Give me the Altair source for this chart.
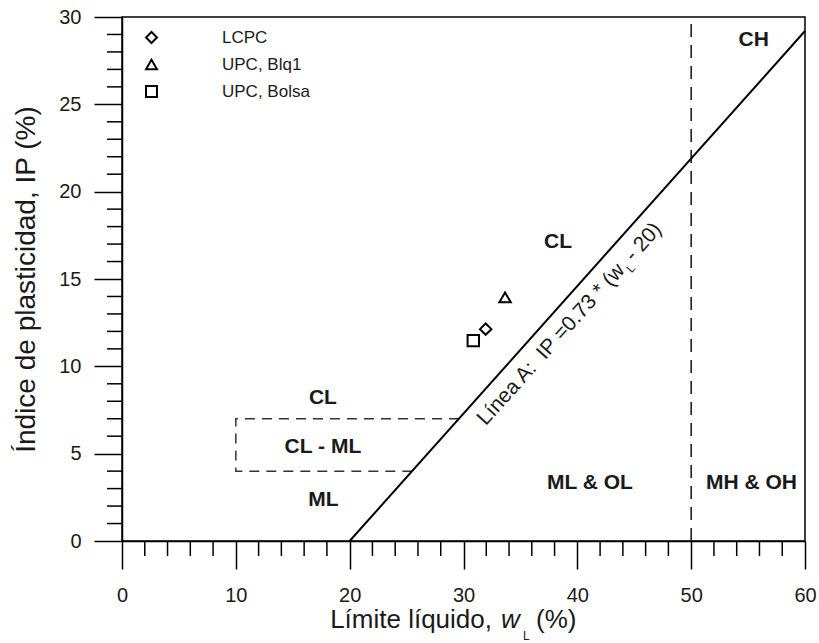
import altair as alt
import pandas as pd

# ---- data ----
series = ["LCPC", "UPC, Blq1", "UPC, Bolsa"]
pt_wl = [31.95, 33.65, 30.86]
pt_ip = [12.13, 13.95, 11.47]
shapes = ["diamond", "triangle-up", "square"]

lineA_wl = [20, 60]
lineA_ip = [0, 29.2]

box_wl = [29.6, 10, 10, 25.5]
box_ip = [7, 7, 4, 4]

vline_wl = [50, 50]
vline_ip = [0, 30]

zone_labels = ["CL", "CL - ML", "ML", "CL", "ML & OL", "MH & OH", "CH"]
zone_wl = [17.65, 17.65, 17.7, 38.3, 41.1, 55.3, 55.5]
zone_ip = [8.2, 5.4, 2.35, 17.1, 3.3, 3.3, 28.7]

lineA_label_wl = [39.72]
lineA_label_ip = [12.18]

x_major = [0, 10, 20, 30, 40, 50, 60]
x_minor = [v for v in range(0, 61, 2) if v % 10 != 0]
y_major = [0, 5, 10, 15, 20, 25, 30]
y_minor = [v for v in range(0, 31) if v % 5 != 0]

FONT = "Liberation Sans"
INK = "#1a1a1a"
W, H = 683, 524
NB = "\u00a0"

xs = alt.Scale(domain=[0, 60], nice=False, zero=False)
ys = alt.Scale(domain=[0, 30], nice=False, zero=False)
xaxis = alt.Axis(values=x_major, tickSize=28, tickWidth=1.5, tickColor="black",
                 domainColor="black", domainWidth=1.5, labelFontSize=20,
                 labelFont=FONT, labelColor=INK, labelPadding=16, grid=False,
                 title=None, labelFlush=False)
yaxis = alt.Axis(values=y_major, tickSize=28, tickWidth=1.5, tickColor="black",
                 domainColor="black", domainWidth=1.5, labelFontSize=20,
                 labelFont=FONT, labelColor=INK, labelPadding=13, grid=False,
                 title="Índice de plasticidad, IP (%)", titleFont=FONT,
                 titleFontSize=28, titleFontWeight="normal", titleColor=INK,
                 titleX=-88, titleY=262, titleBaseline="alphabetic",
                 titleAngle=270, labelFlush=False)
X = alt.X("wl:Q", scale=xs, axis=xaxis)
Y = alt.Y("ip:Q", scale=ys, axis=yaxis)

pts = pd.DataFrame({"wl": pt_wl, "ip": pt_ip, "serie": series})
lineA = pd.DataFrame({"wl": lineA_wl, "ip": lineA_ip, "o": [0, 1]})
box = pd.DataFrame({"wl": box_wl, "ip": box_ip, "o": list(range(len(box_wl)))})
vline = pd.DataFrame({"wl": vline_wl, "ip": vline_ip, "o": [0, 1]})
zones = pd.DataFrame({"wl": zone_wl, "ip": zone_ip, "t": zone_labels})
lab = pd.DataFrame({"wl": lineA_label_wl, "ip": lineA_label_ip})
xm = pd.DataFrame({"wl": x_minor})
ym = pd.DataFrame({"ip": y_minor})

line_a = alt.Chart(lineA).mark_line(color="black", strokeWidth=2).encode(x=X, y=Y, order="o:O")
box_l = alt.Chart(box).mark_line(color="#333", strokeWidth=1.5, strokeDash=[10, 7]).encode(x=X, y=Y, order="o:O")
v_l = alt.Chart(vline).mark_line(color="#111", strokeWidth=1.5, strokeDash=[13, 8]).encode(x=X, y=Y, order="o:O")

points = alt.Chart(pts).mark_point(filled=False, stroke="black", strokeWidth=2,
                                   size=130, opacity=1).encode(
    x=X, y=Y,
    shape=alt.Shape("serie:N", scale=alt.Scale(domain=series, range=shapes),
                    legend=alt.Legend(title=None, orient="none", legendX=21, legendY=12,
                                      labelFont=FONT, labelFontSize=17, labelColor=INK,
                                      labelOffset=62, rowPadding=8, padding=0,
                                      symbolSize=120, symbolStrokeColor="black",
                                      symbolStrokeWidth=2, symbolFillColor="white",
                                      symbolOpacity=1)),
)

zone_text = alt.Chart(zones).mark_text(font=FONT, fontSize=21, fontWeight="bold",
                                       color=INK, align="center", baseline="middle").encode(
    x=X, y=Y, text="t:N")

lab_main = alt.Chart(lab).mark_text(font=FONT, fontSize=21, color=INK, angle=312,
                                    align="center", baseline="alphabetic").encode(
    x=X, y=Y, text=alt.value("Línea A:" + NB + NB + "IP =0.73 * (w" + NB + NB + "- 20)"))
lab_sub = alt.Chart(lab).mark_text(font=FONT, fontSize=12, color=INK, angle=312,
                                   align="left", baseline="alphabetic", dx=79, dy=6).encode(
    x=X, y=Y, text=alt.value("L"))

xminor = alt.Chart(xm).mark_rule(color="black", strokeWidth=1.5).encode(
    x=X, y=alt.value(H), y2=alt.value(H + 15))
yminor = alt.Chart(ym).mark_rule(color="black", strokeWidth=1.5).encode(
    y=Y, x=alt.value(-15), x2=alt.value(0))

# x-axis title pieces (w italic with subscript L)
TY = H + 87
t1 = alt.Chart(lab).mark_text(font=FONT, fontSize=26, color=INK, align="right",
                              baseline="alphabetic").encode(
    x=alt.value(370), y=alt.value(TY), text=alt.value("Límite líquido,"))
t2 = alt.Chart(lab).mark_text(font=FONT, fontSize=26, color=INK, align="left",
                              baseline="alphabetic", fontStyle="italic").encode(
    x=alt.value(379), y=alt.value(TY), text=alt.value("w"))
t3 = alt.Chart(lab).mark_text(font=FONT, fontSize=12, color=INK, align="left",
                              baseline="alphabetic").encode(
    x=alt.value(401), y=alt.value(TY + 12), text=alt.value("L"))
t4 = alt.Chart(lab).mark_text(font=FONT, fontSize=26, color=INK, align="left",
                              baseline="alphabetic").encode(
    x=alt.value(414), y=alt.value(TY), text=alt.value("(%)"))

chart = alt.layer(
    xminor, yminor, box_l, v_l, line_a, points, zone_text, lab_main, lab_sub,
    t1, t2, t3, t4
).properties(
    width=W, height=H,
    padding={"left": 122, "top": 17, "right": 14, "bottom": 102},
    autosize=alt.AutoSizeParams(type="none"),
    background="white",
).configure_view(stroke="black", strokeWidth=1.5)

chart.save("out.html", embed_options={"renderer": "svg", "actions": False})
